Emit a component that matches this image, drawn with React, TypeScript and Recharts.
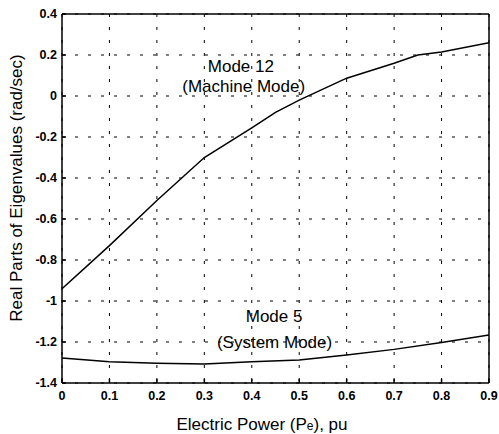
import React from "react";
import {
  LineChart,
  Line,
  XAxis,
  YAxis,
  CartesianGrid,
  ReferenceLine,
  ReferenceDot,
} from "recharts";

// real part of eigenvalue vs electric power Pe (pu)
const mode12 = [
  { x: 0, y: -0.94 },
  { x: 0.1, y: -0.73 },
  { x: 0.2, y: -0.51 },
  { x: 0.3, y: -0.3 },
  { x: 0.4, y: -0.155 },
  { x: 0.45, y: -0.08 },
  { x: 0.5, y: -0.02 },
  { x: 0.6, y: 0.087 },
  { x: 0.7, y: 0.16 },
  { x: 0.75, y: 0.2 },
  { x: 0.8, y: 0.215 },
  { x: 0.9, y: 0.26 },
];

const mode5 = [
  { x: 0, y: -1.278 },
  { x: 0.1, y: -1.296 },
  { x: 0.2, y: -1.304 },
  { x: 0.3, y: -1.307 },
  { x: 0.4, y: -1.296 },
  { x: 0.5, y: -1.288 },
  { x: 0.6, y: -1.263 },
  { x: 0.7, y: -1.236 },
  { x: 0.8, y: -1.203 },
  { x: 0.9, y: -1.166 },
];

const xTicks = [0, 0.1, 0.2, 0.3, 0.4, 0.5, 0.6, 0.7, 0.8, 0.9];
const yTicks = [0.4, 0.2, 0, -0.2, -0.4, -0.6, -0.8, -1, -1.2, -1.4];

const FONT = "'Liberation Sans', Arial, Helvetica, sans-serif";
const fmt = (v: number) => String(Math.round(v * 10) / 10);

const tickStyle = { fontSize: 12.5, fontWeight: "bold", fill: "#000", fontFamily: FONT };
const noteStyle = { fontSize: 17, fill: "#000", fontFamily: FONT };

export default function App() {
  return (
    <div style={{ position: "absolute", left: 0, top: 0, background: "#fff" }}>
      <LineChart
        width={499}
        height={434}
        margin={{ top: 14, right: 10, bottom: 21, left: 0 }}
        style={{ fontFamily: FONT }}
      >
        <CartesianGrid stroke="#000" strokeDasharray="3 10" strokeWidth={1} />
        <XAxis
          dataKey="x"
          type="number"
          domain={[0, 0.9]}
          ticks={xTicks}
          tickFormatter={fmt}
          tick={tickStyle}
          tickLine={{ stroke: "#000", strokeWidth: 1.5 }}
          tickSize={-4}
          tickMargin={12}
          height={30}
          axisLine={{ stroke: "#000", strokeWidth: 1.5 }}
          allowDataOverflow
          label={{
            content: () => (
              <text x={262} y={430} textAnchor="middle" style={noteStyle}>
                Electric Power (P
                <tspan fontSize={12}>e</tspan>
                ), pu
              </text>
            ),
          }}
        />
        <YAxis
          type="number"
          domain={[-1.4, 0.4]}
          ticks={yTicks}
          tickFormatter={fmt}
          tick={tickStyle}
          tickLine={{ stroke: "#000", strokeWidth: 1.5 }}
          tickSize={-4}
          tickMargin={9}
          width={62}
          axisLine={{ stroke: "#000", strokeWidth: 1.5 }}
          allowDataOverflow
          label={{
            content: () => (
              <text
                x={22}
                y={188}
                textAnchor="middle"
                transform="rotate(-90, 22, 188)"
                style={noteStyle}
              >
                Real Parts of Eigenvalues (rad/sec)
              </text>
            ),
          }}
        />
        <ReferenceLine y={0.4} stroke="#000" strokeWidth={1.5} />
        <ReferenceLine x={0.9} stroke="#000" strokeWidth={1.5} />
        <Line
          data={mode12}
          dataKey="y"
          stroke="#000"
          strokeWidth={1.5}
          dot={false}
          type="linear"
          isAnimationActive={false}
        />
        <Line
          data={mode5}
          dataKey="y"
          stroke="#000"
          strokeWidth={1.5}
          dot={false}
          type="linear"
          isAnimationActive={false}
        />
        <ReferenceDot x={0.377} y={0.146} r={0} fill="none" stroke="none"
          label={{ value: "Mode 12", position: "center", style: noteStyle }} />
        <ReferenceDot x={0.383} y={0.049} r={0} fill="none" stroke="none"
          label={{ value: "(Machine Mode)", position: "center", style: noteStyle }} />
        <ReferenceDot x={0.447} y={-1.073} r={0} fill="none" stroke="none"
          label={{ value: "Mode 5", position: "center", style: noteStyle }} />
        <ReferenceDot x={0.448} y={-1.2} r={0} fill="none" stroke="none"
          label={{ value: "(System Mode)", position: "center", style: noteStyle }} />
      </LineChart>
    </div>
  );
}
